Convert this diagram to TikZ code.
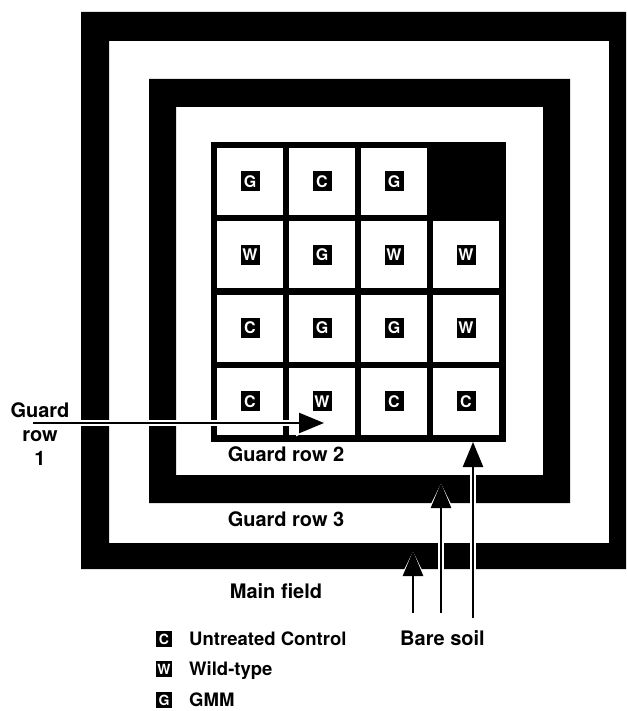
\documentclass[tikz,border=0pt]{standalone}
\usepackage{fontspec}
\setmainfont{TeX Gyre Heros}
\usepackage{tikz}
\usetikzlibrary{arrows.meta,positioning}
\tikzset{
  plotcell/.style={fill=white,minimum width=66pt,minimum height=67pt,inner sep=0pt},
  trtag/.style={fill=black,text=white,font=\fontsize{16}{16}\selectfont\bfseries,minimum width=19pt,minimum height=20pt,inner sep=0pt},
  keytag/.style={trtag,font=\fontsize{14}{14}\selectfont\bfseries,minimum width=16pt,minimum height=16pt},
  lbl/.style={font=\fontsize{20}{24}\selectfont\bfseries,inner sep=0pt},
  keylbl/.style={lbl,font=\fontsize{18.5}{24}\selectfont\bfseries,anchor=base west},
  band/.style={fill=black,even odd rule},
  pointer/.style={-{Triangle[length=25pt,width=20pt]},line width=2.5pt,
    preaction={draw=white,line width=6pt,-{Triangle[length=28pt,width=25pt]}}}
}
\begin{document}
\begin{tikzpicture}[x=1pt,y=-1pt]
  \useasboundingbox (0,0) rectangle (626,711);
  % guard rows 1 and 3 (black bands)
  \fill[band] (81,12) rectangle (626,569) (109,41) rectangle (609,543);
  \fill[band] (149,79) rectangle (570,503) (176,107) rectangle (543,475);
  % trial plots
  \fill (211,142) rectangle (506,442);
  \foreach \r/\c/\t in {1/1/G,1/2/C,1/3/G,
                        2/1/W,2/2/G,2/3/W,2/4/W,
                        3/1/C,3/2/G,3/3/G,3/4/W,
                        4/1/C,4/2/W,4/3/C,4/4/C}{
    \node[plotcell] (p\r\c) at ({250+72*(\c-1)},{181.5+73.3*(\r-1)}) {};
    \node[trtag] (t\r\c) at (p\r\c) {\t};
  }
  \node[lbl,align=center,anchor=north] (row1) at (40,402) {Guard\\row\\1};
  \node[lbl,anchor=base] (row2) at (286,461) {Guard row 2};
  \node[lbl,anchor=base] (row3) at (286,526) {Guard row 3};
  \node[lbl,anchor=base] (field) at (276,598) {Main field};
  \node[lbl,anchor=base west] (soil) at (400,645) {Bare soil};
  % key
  \node[keytag] (kc) at (164,639) {C};
  \node[keytag] (kw) at (164,669) {W};
  \node[keytag] (kg) at (164,700) {G};
  \node[keylbl] (kctxt) at (189,645) {Untreated Control};
  \node[keylbl] (kwtxt) at (189,675) {Wild-type};
  \node[keylbl] (kgtxt) at (189,706) {GMM};
  % arrows
  \coordinate (g1a) at (33,423);
  \coordinate (g1b) at (324,423);
  \coordinate (s1a) at (413,613);
  \coordinate (s1b) at (413,551);
  \coordinate (s2a) at (441,613);
  \coordinate (s2b) at (441,483);
  \coordinate (s3a) at (473,618);
  \coordinate (s3b) at (473,442);
  \draw[pointer] (g1a) -- (g1b);
  \draw[pointer] (s1a) -- (s1b);
  \draw[pointer] (s2a) -- (s2b);
  \draw[pointer] (s3a) -- (s3b);
\end{tikzpicture}
\end{document}
